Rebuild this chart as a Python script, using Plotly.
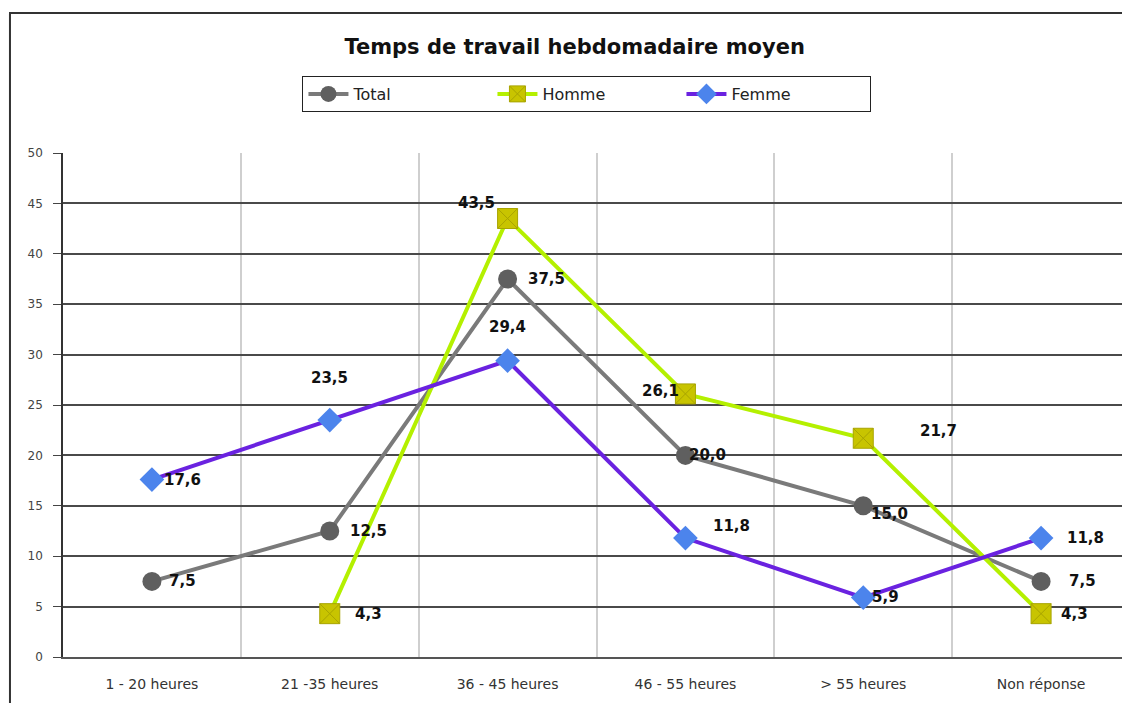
import plotly.graph_objects as go

categories = ["1 - 20 heures", "21 -35 heures", "36 - 45 heures", "46 - 55 heures", "> 55 heures", "Non réponse"]
total = [7.5, 12.5, 37.5, 20.0, 15.0, 7.5]
homme = [None, 4.3, 43.5, 26.1, 21.7, 4.3]
femme = [17.6, 23.5, 29.4, 11.8, 5.9, 11.8]
y_ticks = [0, 5, 10, 15, 20, 25, 30, 35, 40, 45, 50]

# label offsets (pixels) per point
total_off = [(31, 0), (39, 0), (39, 0), (22, 0), (26, -8), (41, 0)]
homme_off = [None, (39, 0), (-31, 16), (-25, 3), (75, 7), (33, 0)]
femme_off = [(31, 0), (0, 42), (0, 34), (46, 12), (22, 1), (44, 0)]

def fmt(v):
    return f"{v:.1f}".replace(".", ",")

fig = go.Figure()
fig.add_trace(go.Scatter(x=categories, y=total, name="Total", mode="lines+markers",
                         line=dict(color="#7a7a7a", width=4),
                         marker=dict(symbol="circle", size=19, color="#5f5f5f")))
fig.add_trace(go.Scatter(x=categories, y=homme, name="Homme", mode="lines+markers",
                         line=dict(color="#b4f000", width=4),
                         marker=dict(symbol="square-x", size=20, color="#c8c400",
                                     line=dict(color="#a8a400", width=1))))
fig.add_trace(go.Scatter(x=categories, y=femme, name="Femme", mode="lines+markers",
                         line=dict(color="#6a22e0", width=4),
                         marker=dict(symbol="diamond", size=19, color="#4c84ec")))

annotations = []
for series, offs in ((total, total_off), (homme, homme_off), (femme, femme_off)):
    for c, v, o in zip(categories, series, offs):
        if v is None:
            continue
        annotations.append(dict(x=c, y=v, xref="x", yref="y", text=fmt(v), showarrow=False,
                                xshift=o[0], yshift=o[1],
                                font=dict(family="DejaVu Sans, Liberation Sans", size=15, color="#111111", weight="bold")))

fig.update_layout(
    width=1122, height=703,
    paper_bgcolor="white", plot_bgcolor="white",
    margin=dict(l=55, r=0, t=145, b=54),
    title=dict(text="<b>Temps de travail hebdomadaire moyen</b>", x=0.505, xref="container", y=0.9445, yref="container",
               xanchor="center", yanchor="middle",
               font=dict(family="DejaVu Sans, Liberation Sans", size=21, color="#111111")),
    showlegend=True,
    legend=dict(orientation="h", x=0.516, xref="container", xanchor="center", y=0.8777, yref="container", yanchor="middle",
                bordercolor="#222222", borderwidth=1, bgcolor="white",
                entrywidth=134, itemwidth=40,
                font=dict(family="DejaVu Sans, Liberation Sans", size=16, color="#222222")),
    annotations=annotations,
    xaxis=dict(type="category", showgrid=True, gridcolor="#cfcfcf", gridwidth=2, tickson="boundaries",
               ticks="", showline=True, linecolor="#555555", linewidth=1.5, ticklabelstandoff=13,
               tickfont=dict(family="DejaVu Sans, Liberation Sans", size=14, color="#333333"),
               range=[-0.5, 5.5], fixedrange=True),
    yaxis=dict(range=[0, 50], tickvals=y_ticks, showgrid=True, gridcolor="#4a4a4a", gridwidth=1.5,
               ticks="outside", ticklen=8, tickcolor="#444444", ticklabelstandoff=8,
               showline=True, linecolor="#333333", linewidth=1.5, zeroline=False,
               tickfont=dict(family="DejaVu Sans, Liberation Sans", size=12, color="#444444")),
    shapes=[dict(type="rect", xref="paper", yref="paper", x0=-0.0497, x1=1.05, y0=-0.2, y1=1.2778,
                 line=dict(color="#333333", width=2), fillcolor="rgba(0,0,0,0)", layer="below")],
)

fig.write_html("out.html")
